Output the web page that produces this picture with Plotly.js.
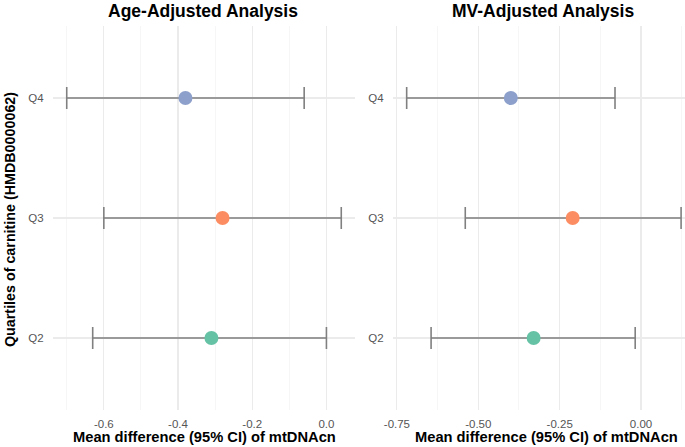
<!DOCTYPE html>
<html>
<head>
<meta charset="utf-8">
<script src="https://cdn.plot.ly/plotly-3.0.1.min.js"></script>
<style>html,body{margin:0;padding:0;background:#fff}#chart{width:685px;height:447px}</style>
</head>
<body>
<div id="chart"></div>
<script>
// Data
const quartiles = ['Q4', 'Q3', 'Q2'];
const colors = ['#8DA0CB', '#FC8D62', '#66C2A5'];

const ageMean = [-0.38, -0.28, -0.31];
const ageLow  = [-0.70, -0.60, -0.63];
const ageHigh = [-0.06, 0.04, 0.00];

const mvMean = [-0.40, -0.21, -0.33];
const mvLow  = [-0.72, -0.54, -0.645];
const mvHigh = [-0.08, 0.123, -0.018];

const ageTickVals = [-0.6, -0.4, -0.2, 0.0];
const ageTickText = ['-0.6', '-0.4', '-0.2', '0.0'];
const mvTickVals = [-0.75, -0.50, -0.25, 0.00];
const mvTickText = ['-0.75', '-0.50', '-0.25', '0.00'];

const xTitle = 'Mean difference (95% CI) of mtDNAcn';
const yTitle = 'Quartiles of carnitine (HMDB0000062)';

function makeTraces(mean, low, high, xa, ya) {
  return quartiles.map((q, i) => ({
    type: 'scatter', mode: 'markers',
    x: [mean[i]], y: [q], xaxis: xa, yaxis: ya,
    marker: {color: colors[i], size: 14},
    error_x: {type: 'data', symmetric: false,
      array: [high[i] - mean[i]], arrayminus: [mean[i] - low[i]],
      color: '#808080', thickness: 1.6, width: 11},
    showlegend: false, hoverinfo: 'x+y'
  }));
}

const traces = [
  ...makeTraces(ageMean, ageLow, ageHigh, 'x', 'y'),
  ...makeTraces(mvMean, mvLow, mvHigh, 'x2', 'y2')
];

const W = 685, H = 447;
const px = v => v / W, py = v => 1 - v / H;
const font = 'Liberation Sans, Arial, sans-serif';
const grid = '#EBEBEB';
const tickFont = {family: font, size: 11.5, color: '#555555'};

function yAxis(anchor) {
  return {
    anchor: anchor, type: 'category',
    categoryorder: 'array', categoryarray: ['Q2', 'Q3', 'Q4'],
    range: [-0.6, 2.6], domain: [py(410), py(26)],
    showgrid: true, gridcolor: grid, gridwidth: 1.1,
    zeroline: false, showline: false,
    ticks: 'outside', ticklen: 6, tickcolor: 'rgba(0,0,0,0)',
    tickfont: tickFont,
    automargin: false
  };
}

function xAxis(anchor, domain, range, vals, text, minorDtick, minorTick0) {
  return {
    anchor: anchor, domain: domain, range: range,
    tickmode: 'array', tickvals: vals, ticktext: text,
    showgrid: true, gridcolor: grid, gridwidth: 1.1,
    minor: {dtick: minorDtick, tick0: minorTick0, showgrid: true, gridcolor: '#F2F2F2', gridwidth: 0.7},
    zeroline: false, showline: false,
    ticks: 'outside', ticklen: 3, tickcolor: 'rgba(0,0,0,0)',
    tickfont: tickFont,
    automargin: false
  };
}

const layout = {
  width: W, height: H,
  margin: {l: 0, r: 0, t: 0, b: 0},
  paper_bgcolor: '#fff', plot_bgcolor: '#fff',
  showlegend: false,
  xaxis: xAxis('y', [px(53), px(355)], [-0.737, 0.077], ageTickVals, ageTickText, 0.2, -0.7),
  yaxis: yAxis('x'),
  xaxis2: xAxis('y2', [px(393), 1], [-0.762, 0.135], mvTickVals, mvTickText, 0.25, -0.625),
  yaxis2: yAxis('x2'),
  annotations: [
    {text: '<b>Age-Adjusted Analysis</b>', x: px(203), y: py(11), xref: 'paper', yref: 'paper',
     showarrow: false, xanchor: 'center', yanchor: 'middle', font: {family: font, size: 17.5, color: '#000'}},
    {text: '<b>MV-Adjusted Analysis</b>', x: px(543), y: py(11), xref: 'paper', yref: 'paper',
     showarrow: false, xanchor: 'center', yanchor: 'middle', font: {family: font, size: 17.5, color: '#000'}},
    {text: '<b>' + xTitle + '</b>', x: px(204), y: py(437), xref: 'paper', yref: 'paper',
     showarrow: false, xanchor: 'center', yanchor: 'middle', font: {family: font, size: 14.7, color: '#000'}},
    {text: '<b>' + xTitle + '</b>', x: px(546), y: py(437), xref: 'paper', yref: 'paper',
     showarrow: false, xanchor: 'center', yanchor: 'middle', font: {family: font, size: 14.7, color: '#000'}},
    {text: '<b>' + yTitle + '</b>', x: px(10), y: py(220), xref: 'paper', yref: 'paper',
     showarrow: false, xanchor: 'center', yanchor: 'middle', textangle: -90,
     font: {family: font, size: 14.3, color: '#000'}}
  ]
};

Plotly.newPlot('chart', traces, layout, {displayModeBar: false, staticPlot: true});
</script>
</body>
</html>
